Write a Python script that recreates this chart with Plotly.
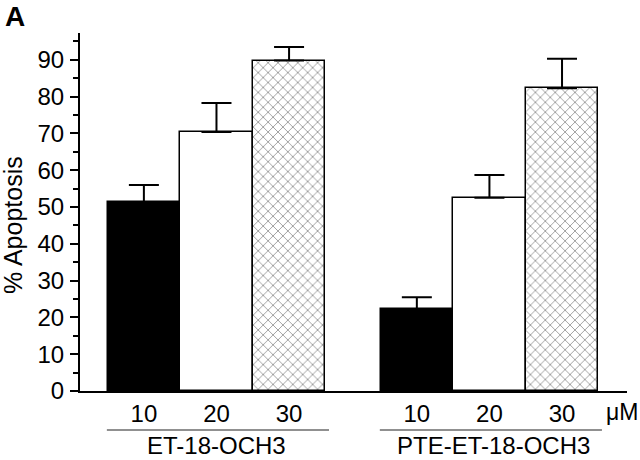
import plotly.graph_objects as go

# ---- data ----
groups = ["ET-18-OCH3", "PTE-ET-18-OCH3"]
doses = ["10", "20", "30"]
et_values = [51.3, 70.4, 89.8]
et_errors = [4.7, 7.9, 3.7]
pte_values = [22.3, 52.5, 82.3]
pte_errors = [3.2, 6.2, 8.0]
unit_label = "μM"
y_title = "% Apoptosis"
panel_label = "A"

# ---- layout parameters ----
GROUP_STEP = 3.76  # distance between group starts, in bar widths
FONT = "Liberation Sans, Arial, Helvetica, sans-serif"

dose_styles = [
    dict(color="black", pattern=None),
    dict(color="white", pattern=None),
    dict(color="white", pattern=dict(shape="x", size=7, solidity=0.24,
                                     fgcolor="#333333", bgcolor="white")),
]

fig = go.Figure()
tickvals, ticktext = [], []
for gi, (vals, errs) in enumerate([(et_values, et_errors), (pte_values, pte_errors)]):
    for di, (v, e) in enumerate(zip(vals, errs)):
        x = gi * GROUP_STEP + di
        st = dose_styles[di]
        marker = dict(color=st["color"], line=dict(color="black", width=1.5))
        if st["pattern"]:
            marker["pattern"] = st["pattern"]
        fig.add_trace(go.Bar(
            x=[x], y=[v], width=1.0, marker=marker, showlegend=False,
            error_y=dict(type="data", symmetric=False, array=[e], arrayminus=[0],
                         color="black", thickness=2, width=15),
        ))
        tickvals.append(x)
        ticktext.append(doses[di])

# group underline + labels
for gi, g in enumerate(groups):
    x0 = gi * GROUP_STEP - 0.51
    x1 = gi * GROUP_STEP + 2.55
    fig.add_shape(type="line", xref="x", yref="paper", x0=x0, x1=x1,
                  y0=-0.109, y1=-0.109, line=dict(color="#222222", width=1.2))
    fig.add_annotation(x=gi * GROUP_STEP + 1 + 0.06 * gi, y=-0.153, xref="x", yref="paper",
                       text=g, showarrow=False,
                       font=dict(size=24, color="black", family=FONT),
                       xanchor="center", yanchor="middle", borderpad=0)

fig.add_annotation(x=1.022, y=-0.059, xref="paper", yref="paper", text=unit_label,
                   showarrow=False, font=dict(size=23, color="black", family=FONT),
                   xanchor="right", yanchor="middle", borderpad=0)

fig.add_annotation(x=-0.1225, y=0.464, xref="paper", yref="paper", text=y_title,
                   textangle=-90, showarrow=False,
                   font=dict(size=25, color="black", family=FONT),
                   xanchor="center", yanchor="middle")

fig.add_annotation(x=-0.119, y=1.045, xref="paper", yref="paper",
                   text="<b>" + panel_label + "</b>",
                   showarrow=False, font=dict(size=28, color="black", family=FONT),
                   xanchor="center", yanchor="middle")

fig.update_layout(
    width=640, height=460,
    margin=dict(l=80, r=13, t=33, b=69),
    plot_bgcolor="white", paper_bgcolor="white",
    bargap=0,
    font=dict(family=FONT, color="black", size=24),
    xaxis=dict(range=[-0.88, 6.655], showline=True, linecolor="black", linewidth=2,
               showgrid=False, zeroline=False, ticks="",
               tickvals=tickvals, ticktext=ticktext,
               tickfont=dict(size=24), ticklabelstandoff=0, automargin=False),
    yaxis=dict(range=[0, 97.3], showline=True, linecolor="black", linewidth=2,
               showgrid=False, zeroline=False, ticks="outside", ticklen=8,
               tickwidth=2, tickcolor="black", dtick=10, tick0=0,
               tickfont=dict(size=24), ticklabelstandoff=1, automargin=False,
               minor=dict(ticks="outside", ticklen=5, tickwidth=2, dtick=5,
                          tickcolor="black", showgrid=False)),
)

fig.write_html("out.html", config={"displayModeBar": False},
               post_script="document.body.style.margin='0px';")
